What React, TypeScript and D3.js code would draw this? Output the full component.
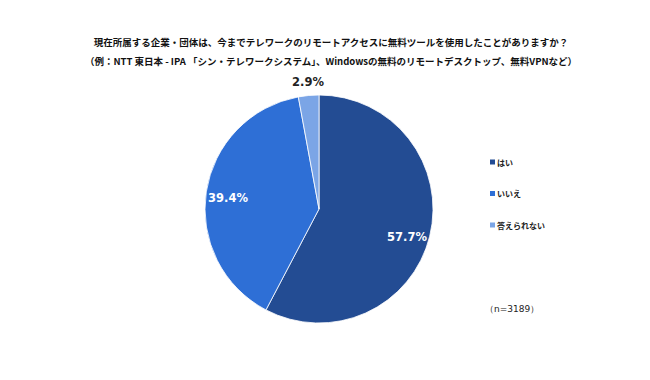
import React from "react";
import * as d3 from "d3";

const categories = ["はい", "いいえ", "答えられない"];
const values = [57.7, 39.4, 2.9];
const colors = ["#234c93", "#2e6fd6", "#7ba5e6"];
const titleLines = [
  "現在所属する企業・団体は、今までテレワークのリモートアクセスに無料ツールを使用したことがありますか？",
  "（例：NTT 東日本 - IPA 「シン・テレワークシステム」、Windowsの無料のリモートデスクトップ、無料VPNなど）",
];
const note = "（n=3189）";

export default function App() {
  const W = 650, H = 380;
  const cx = 319, cy = 209, r = 114;
  const pie = d3.pie<number>().sort(null).value((d) => d)(values);
  const arc = d3.arc<d3.PieArcDatum<number>>().innerRadius(0).outerRadius(r);
  const jp = "'Noto Sans CJK JP', 'Noto Sans', sans-serif";
  const num = "'DejaVu Sans', sans-serif";
  const labelPos = [
    { x: 407, y: 237, fill: "#fff" },
    { x: 228, y: 198, fill: "#fff" },
    { x: 308, y: 82, fill: "#222" },
  ];
  return (
    <svg width={W} height={H} style={{ position: "absolute", left: 0, top: 0, background: "#fff" }}>
      <rect width={W} height={H} fill="#fff" />
      {titleLines.map((t, i) => (
        <text key={i} x={331} y={42 + i * 18.5} textAnchor="middle" dominantBaseline="central" fontFamily={jp} fontWeight="bold" fontSize={9.5} fill="#111">
          {t}
        </text>
      ))}
      <g transform={`translate(${cx},${cy})`}>
        {pie.map((p, i) => (
          <path key={i} d={arc(p) || ""} fill={colors[i]} stroke="#fff" strokeWidth={0.8} />
        ))}
      </g>
      {pie.map((p, i) => (
        <text key={i} x={labelPos[i].x} y={labelPos[i].y} textAnchor="middle" dominantBaseline="central"
          fontFamily={num} fontWeight="bold" fontSize={11.5} fill={labelPos[i].fill}>
          {values[i].toFixed(1)}%
        </text>
      ))}
      {categories.map((c, i) => (
        <g key={c} transform={`translate(490,${162 + i * 31.5})`}>
          <rect x={0} y={-2.5} width={5} height={5} fill={colors[i]} />
          <text x={7} y={0} dominantBaseline="central" fontFamily={jp} fontWeight="bold" fontSize={8} fill="#222">{c}</text>
        </g>
      ))}
      <text x={485} y={309} dominantBaseline="central" fontFamily={num} fontSize={9} fill="#222">{note}</text>
    </svg>
  );
}
